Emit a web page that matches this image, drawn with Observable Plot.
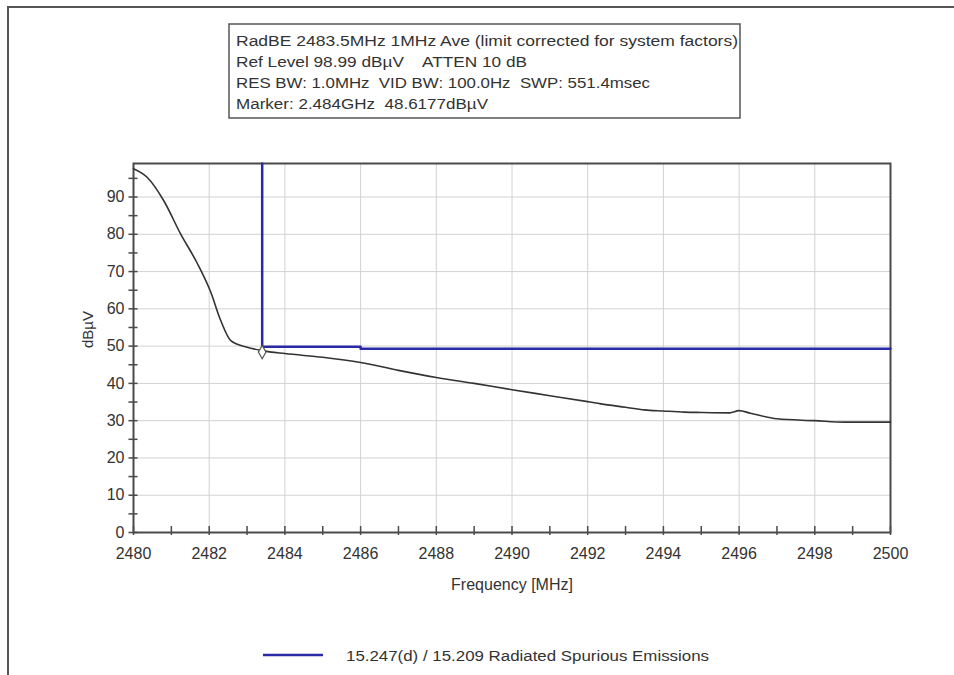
<!DOCTYPE html>
<html>
<head>
<meta charset="utf-8">
<script src="https://cdn.jsdelivr.net/npm/d3@7"></script>
<script src="https://cdn.jsdelivr.net/npm/@observablehq/plot@0.6"></script>
<style>
  html, body { margin: 0; padding: 0; background: #fff; }
  #chart { width: 954px; height: 675px; }
</style>
</head>
<body>
<div id="chart"></div>
<script>
// ---- data ----
const freqMHz = [2480, 2480.36, 2480.8, 2481.24, 2481.68, 2482.04, 2482.3, 2482.57, 2483.0, 2483.4, 2484, 2485, 2486, 2487, 2488, 2489, 2490, 2491, 2492, 2492.35, 2493, 2493.5, 2494, 2494.56, 2495, 2495.75, 2496, 2496.3, 2497, 2498, 2498.8, 2499.9, 2500];
const levelDbuV = [97.6, 95.3, 89, 80.2, 72.3, 64.5, 57, 51.5, 49.7, 48.8, 48.0, 47.0, 45.6, 43.5, 41.6, 40.0, 38.3, 36.7, 35.1, 34.5, 33.6, 32.9, 32.6, 32.3, 32.2, 32.1, 32.7, 32.0, 30.5, 30.0, 29.6, 29.6, 29.6];
const limitFreq = [2483.4, 2483.4, 2486, 2486, 2500];
const limitLevel = [98.99, 49.8, 49.8, 49.3, 49.3];
const markerFreq = [2483.4];
const markerLevel = [48.4];
const xTicks = [2480, 2482, 2484, 2486, 2488, 2490, 2492, 2494, 2496, 2498, 2500];
const xMinor = [2481, 2483, 2485, 2487, 2489, 2491, 2493, 2495, 2497, 2499];
const yTicks = [0, 10, 20, 30, 40, 50, 60, 70, 80, 90];
const yMinor = [5, 15, 25, 35, 45, 55, 65, 75, 85, 95];
const headerLines = [
  "RadBE 2483.5MHz 1MHz Ave (limit corrected for system factors)",
  "Ref Level 98.99 dB\u00b5V    ATTEN 10 dB",
  "RES BW: 1.0MHz  VID BW: 100.0Hz  SWP: 551.4msec",
  "Marker: 2.484GHz  48.6177dB\u00b5V"
];
const legendLabel = "15.247(d) / 15.209 Radiated Spurious Emissions";
const xLabel = "Frequency [MHz]";
const yLabel = "dB\u00b5V";

const trace = freqMHz.map((f, i) => ({f, v: levelDbuV[i]}));
const limit = limitFreq.map((f, i) => ({f, v: limitLevel[i]}));
const marker = markerFreq.map((f, i) => ({f, v: markerLevel[i]}));

const font = "'Liberation Sans', Arial, sans-serif";
const frameColor = "#4a4a4a";
const gridColor = "#d2d2d2";
const blue = "#2a2aa6";

const plot = Plot.plot({
  width: 954,
  height: 675,
  marginLeft: 133,
  marginRight: 64,
  marginTop: 163,
  marginBottom: 143,
  style: {fontFamily: font, fontSize: "15px", color: "#333", background: "#fff"},
  x: {domain: [2480, 2500], label: null},
  y: {domain: [0, 98.99], label: null},
  marks: [
    Plot.gridX(xTicks, {stroke: gridColor, strokeOpacity: 1, strokeWidth: 1}),
    Plot.gridY(yTicks, {stroke: gridColor, strokeOpacity: 1, strokeWidth: 1}),
    Plot.axisX(xTicks, {tickSize: 0, tickPadding: 15, fontSize: 16, fill: "#333", label: null, tickFormat: d => String(d)}),
    Plot.axisY(yTicks, {tickSize: 0, tickPadding: 9, fontSize: 16, fill: "#333", label: null, tickFormat: d => String(d)}),
    // crossing tick marks on the axes
    Plot.ruleX(xTicks.concat(xMinor), {y1: -0.8, y2: 1.6, stroke: frameColor, strokeWidth: 1.5}),
    Plot.ruleY(yTicks.concat(yMinor), {x1: 2479.88, x2: 2480.12, stroke: frameColor, strokeWidth: 1.5}),
    Plot.frame({stroke: frameColor, strokeWidth: 2}),
    Plot.line(trace, {x: "f", y: "v", stroke: "#333", strokeWidth: 1.6, curve: "monotone-x"}),
    Plot.line(limit, {x: "f", y: "v", stroke: blue, strokeWidth: 2.5}),
    Plot.dot(marker, {x: "f", y: "v", symbol: "diamond", r: 4, stroke: "#555", fill: "#fff", strokeWidth: 1.2}),
    Plot.text([xLabel], {frameAnchor: "bottom", dy: 57, fontSize: 16, fill: "#333"}),
    Plot.text([yLabel], {frameAnchor: "left", dx: -45, rotate: -90, fontSize: 15, fill: "#333"})
  ]
});

document.getElementById("chart").appendChild(plot);

// decorations: outer border, header box, legend
const svg = d3.select(plot);
svg.append("path")
  .attr("d", "M8,675 L8,7 L954,7")
  .attr("fill", "none").attr("stroke", "#555").attr("stroke-width", 2);

const headerWidths = [502, 291, 414, 252];
const hb = svg.append("g").attr("text-anchor", "start");
hb.append("rect").attr("x", 229).attr("y", 24).attr("width", 511).attr("height", 94)
  .attr("fill", "#fff").attr("stroke", "#555").attr("stroke-width", 1.5);
headerLines.forEach((t, i) => {
  hb.append("text").attr("x", 236).attr("y", 46 + i * 21)
    .attr("font-family", font).attr("font-size", 15.5).attr("fill", "#333")
    .attr("textLength", headerWidths[i]).attr("lengthAdjust", "spacingAndGlyphs")
    .style("white-space", "pre")
    .text(t);
});

const lg = svg.append("g").attr("text-anchor", "start");
lg.append("line").attr("x1", 263).attr("x2", 323).attr("y1", 655).attr("y2", 655)
  .attr("stroke", blue).attr("stroke-width", 2.5);
lg.append("text").attr("x", 346).attr("y", 661)
  .attr("font-family", font).attr("font-size", 15.5).attr("fill", "#333")
  .attr("textLength", 363).attr("lengthAdjust", "spacingAndGlyphs")
  .text(legendLabel);
</script>
</body>
</html>
